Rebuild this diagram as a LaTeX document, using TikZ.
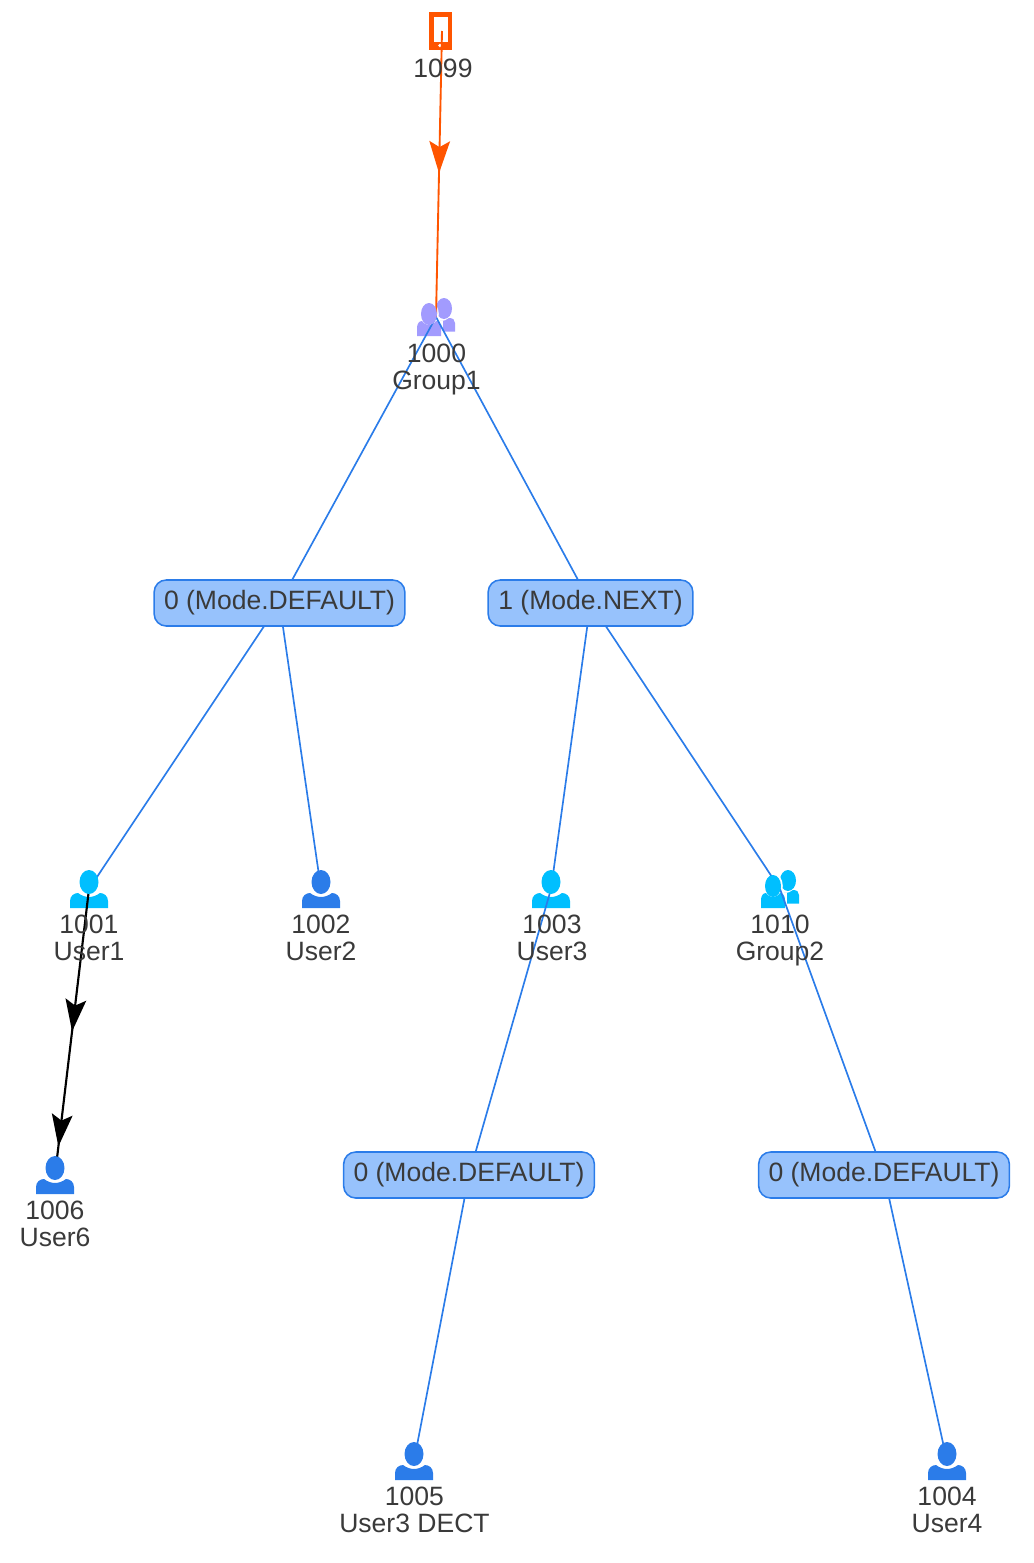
\documentclass[tikz,border=0pt]{standalone}
\usepackage{fontspec}
\setmainfont{Liberation Sans}
\usetikzlibrary{arrows.meta,decorations.markings}
\definecolor{edgeblue}{HTML}{2B7CE9}
\definecolor{pillfill}{HTML}{97C2FC}
\definecolor{cyanicon}{HTML}{00BFFF}
\definecolor{violeticon}{HTML}{A29BFE}
\definecolor{phoneorange}{HTML}{FF5500}
\definecolor{labelgray}{HTML}{3A3A3A}
\pgfdeclarelayer{bodies}
\pgfdeclarelayer{edges}
\pgfsetlayers{bodies,edges,main}
\tikzset{
  anchorpt/.style={inner sep=0pt,minimum width=28.5pt,minimum height=28.5pt},
  lbl/.style={anchor=north,inner sep=0pt,align=center,text=labelgray,
    font=\fontsize{19.9pt}{20.25pt}\selectfont},
  pill/.style={draw=edgeblue,fill=pillfill,line width=1.15pt,rounded corners=9pt,inner sep=0pt,
    minimum height=34.5pt,text=labelgray,font=\fontsize{19.9pt}{20.25pt}\selectfont},
  link/.style={draw=edgeblue,line width=1.25pt},
  midtip/.style n args={2}{postaction={decorate},decoration={markings,
    mark=at position #1 with {\arrow[#2]{Stealth[length=24pt,width=15.5pt,inset=4.5pt]}}}},
  redlink/.style={draw=phoneorange,line width=1.4pt,midtip={0.497}{phoneorange}},
  blacklink/.style={draw=black,line width=1.6pt,postaction={decorate},decoration={markings,
    mark=at position 0.498 with {\arrow[black]{Stealth[length=24pt,width=15.5pt,inset=4.5pt]}},
    mark=at position 0.9 with {\arrow[black]{Stealth[length=24pt,width=15.5pt,inset=4.5pt]}}}}
}
\newcommand{\personicon}[4]{% name, x, y, colour
  \begin{scope}[shift={(#2,#3)}]
    \node[anchorpt] (#1) at (0,0) {};
    \begin{pgfonlayer}{bodies}
      \fill[#4] (-19,19) -- (-19,12) .. controls (-19,7) and (-15,4) .. (-11,4)
        .. controls (-7,7) and (-3,8) .. (0,8) .. controls (3,8) and (7,7) .. (11,4)
        .. controls (15,4) and (19,7) .. (19,12) -- (19,19) -- cycle;
    \end{pgfonlayer}
    \fill[#4] (0,-7) ellipse [x radius=9.5,y radius=12];
  \end{scope}}
\newcommand{\groupicon}[4]{% name, x, y, colour
  \begin{scope}[shift={(#2,#3)}]
    \node[anchorpt] (#1) at (0,0) {};
    \begin{pgfonlayer}{bodies}
      \fill[#4] (8,-8.5) ellipse [x radius=8,y radius=10.5];
      \fill[#4] (4,14.5) -- (19,14.5) -- (19,6) .. controls (19,3) and (17,1) .. (13,1)
        .. controls (11,3) and (8,4) .. (4,4) -- cycle;
      \fill[white] (-7,-3) ellipse [x radius=9.8,y radius=13];
      \fill[white] (-21,19) -- (-21,4) -- (7,4) -- (7,19) -- cycle;
      \fill[#4] (-19,19) -- (-19,11) .. controls (-19,7) and (-17,4) .. (-14,4)
        .. controls (-12,7) and (-9,8) .. (-7,8) .. controls (-5,8) and (-2,7) .. (0,4)
        .. controls (3,4) and (5,7) .. (5,11) -- (5,19) -- cycle;
    \end{pgfonlayer}
    \fill[#4] (-7,-3) ellipse [x radius=8,y radius=11];
  \end{scope}}
\begin{document}
\begin{tikzpicture}[x=.75pt,y=-.75pt]
\useasboundingbox (0,0) rectangle (1034,1563);
% phone
\node[anchorpt] (n1099) at (442,31) {};
\begin{pgfonlayer}{bodies}
  \fill[phoneorange] (428.5,12) rectangle (452,49.5);
  \fill[white] (433.5,17) rectangle (447.5,41.5);
  \fill[white] (440,45.5) circle [radius=1.8];
\end{pgfonlayer}
% icons
\groupicon{n1000}{436}{317}{violeticon}
\personicon{n1001}{89}{889}{cyanicon}
\personicon{n1002}{321}{889}{edgeblue}
\personicon{n1003}{551}{889}{cyanicon}
\groupicon{n1010}{780}{889}{cyanicon}
\personicon{n1006}{55}{1175}{edgeblue}
\personicon{n1005}{414}{1461}{edgeblue}
\personicon{n1004}{947}{1461}{edgeblue}
% mode boxes
\node[pill,minimum width=188pt] (m1) at (279.5,603) {0 (Mode.DEFAULT)};
\node[pill,minimum width=153.5pt] (m2) at (590.5,603) {1 (Mode.NEXT)};
\node[pill,minimum width=188pt] (m3) at (469,1175) {0 (Mode.DEFAULT)};
\node[pill,minimum width=188pt] (m4) at (884,1175) {0 (Mode.DEFAULT)};
% labels
\node[lbl] (t1099) at (443,58.5) {1099};
\node[lbl] (t1000) at (436.5,344) {1000\\Group1};
\node[lbl] (t1001) at (89,915) {1001\\User1};
\node[lbl] (t1002) at (321,915) {1002\\User2};
\node[lbl] (t1003) at (552,915) {1003\\User3};
\node[lbl] (t1010) at (780,915) {1010\\Group2};
\node[lbl] (t1006) at (55,1201) {1006\\User6};
\node[lbl] (t1005) at (414.5,1487) {1005\\User3 DECT};
\node[lbl] (t1004) at (947,1487) {1004\\User4};
% connectors
\begin{pgfonlayer}{edges}
  \draw[link] (n1000.center) -- (m1.center);
  \draw[link] (n1000.center) -- (m2.center);
  \draw[link] (m1.center) -- (n1001.center);
  \draw[link] (m1.center) -- (n1002.center);
  \draw[link] (m2.center) -- (n1003.center);
  \draw[link] (m2.center) -- (n1010.center);
  \draw[link] (n1003.center) -- (m3.center);
  \draw[link] (m3.center) -- (n1005.center);
  \draw[link] (n1010.center) -- (m4.center);
  \draw[link] (m4.center) -- (n1004.center);
  \draw[redlink] (n1099.center) -- (n1000.center);
  \draw[blacklink] (n1001.center) -- (n1006.center);
\end{pgfonlayer}
\end{tikzpicture}
\end{document}
